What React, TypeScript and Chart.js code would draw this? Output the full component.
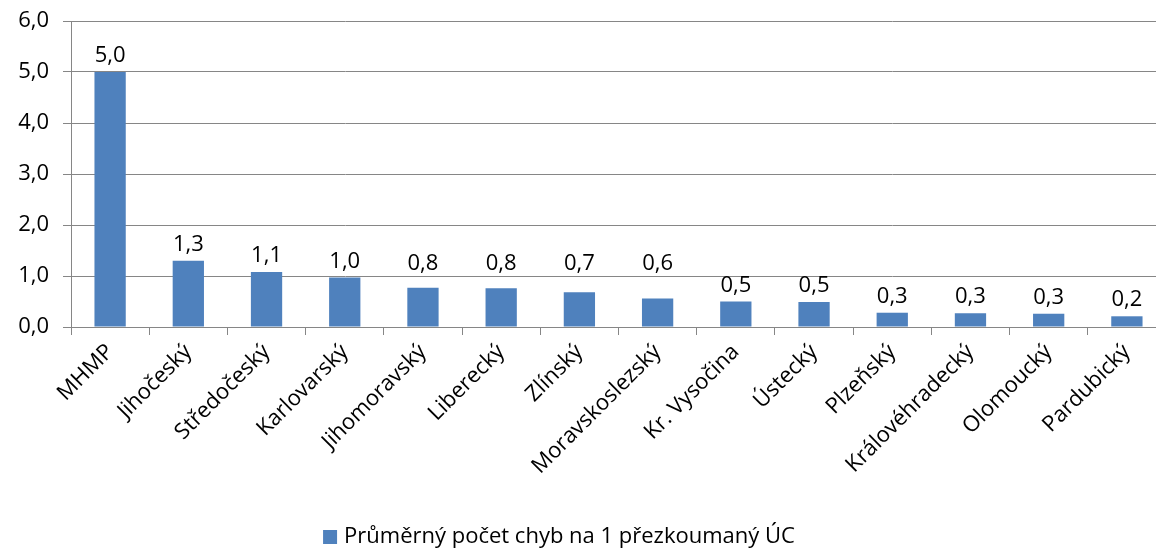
import React, { useEffect, useRef } from "react";
import { Chart, registerables } from "chart.js";

Chart.register(...registerables);

const categories = [
  "MHMP",
  "Jihočeský",
  "Středočeský",
  "Karlovarský",
  "Jihomoravský",
  "Liberecký",
  "Zlínský",
  "Moravskoslezský",
  "Kr. Vysočina",
  "Ústecký",
  "Plzeňský",
  "Královéhradecký",
  "Olomoucký",
  "Pardubický",
];
const values = [5.0, 1.3, 1.08, 0.97, 0.77, 0.76, 0.68, 0.56, 0.5, 0.49, 0.28, 0.27, 0.26, 0.21];
const seriesLabel = "Průměrný počet chyb na 1 přezkoumaný ÚC";
const yMin = 0;
const yMax = 6;
const yStep = 1;

const FONT = "'Open Sans', Lato, sans-serif";
const FONT_SIZE = 22;
const BAR_COLOR = "#4F81BD";
const GRID_COLOR = "#868686";

const fmt = (v: number) => v.toFixed(1).replace(".", ",");

const valueLabels = {
  id: "valueLabels",
  afterDatasetsDraw(chart: any) {
    const ctx = chart.ctx;
    const yScale = chart.scales.y;
    const grids: number[] = [];
    for (let v = yMin; v <= yMax; v += yStep) grids.push(yScale.getPixelForValue(v));
    const meta = chart.getDatasetMeta(0);
    ctx.save();
    ctx.font = `${FONT_SIZE}px ${FONT}`;
    ctx.fillStyle = "#000";
    ctx.textAlign = "center";
    ctx.textBaseline = "alphabetic";
    const capH = 14;
    meta.data.forEach((bar: any, i: number) => {
      let base = bar.y - 10;
      const hit = grids.find((g) => g > base - capH && g < base + 1);
      if (hit !== undefined) base = hit - 6;
      ctx.fillText(fmt(values[i]), bar.x, base);
    });
    ctx.restore();
  },
};

const customLegend = {
  id: "customLegend",
  afterDraw(chart: any) {
    const ctx = chart.ctx;
    ctx.save();
    ctx.font = `${FONT_SIZE}px ${FONT}`;
    const textW = ctx.measureText(seriesLabel).width;
    const box = 14;
    const gap = 7;
    const total = box + gap + textW;
    const cx = 559;
    const x0 = cx - total / 2;
    const cy = 537;
    ctx.fillStyle = BAR_COLOR;
    ctx.fillRect(x0, cy - box / 2, box, box);
    ctx.fillStyle = "#000";
    ctx.textAlign = "left";
    ctx.textBaseline = "middle";
    ctx.fillText(seriesLabel, x0 + box + gap, cy);
    ctx.restore();
  },
};

export default function App() {
  const ref = useRef<HTMLCanvasElement>(null);
  useEffect(() => {
    if (!ref.current) return;
    const chart = new Chart(ref.current, {
      type: "bar",
      data: {
        labels: categories,
        datasets: [
          {
            label: seriesLabel,
            data: values,
            backgroundColor: BAR_COLOR,
            borderWidth: 0,
            barPercentage: 0.4,
            categoryPercentage: 1.0,
          },
        ],
      },
      options: {
        responsive: false,
        animation: false,
        events: [],
        layout: { padding: { top: 21, left: 0, right: 0, bottom: 0 } },
        plugins: {
          legend: { display: false },
          tooltip: { enabled: false },
          title: { display: false },
        },
        scales: {
          x: {
            offset: true,
            grid: {
              offset: true,
              drawOnChartArea: false,
              drawTicks: true,
              tickLength: 8,
              color: GRID_COLOR,
            },
            border: { color: GRID_COLOR, width: 1 },
            ticks: {
              autoSkip: false,
              minRotation: 45,
              maxRotation: 45,
              padding: 4,
              color: "#000",
              font: { family: FONT, size: FONT_SIZE },
            },
            afterFit: (scale: any) => {
              scale.height = 551 - 327;
              scale.paddingLeft = 0;
              scale.paddingRight = 0;
            },
          },
          y: {
            min: yMin,
            max: yMax,
            ticks: {
              stepSize: yStep,
              padding: 14,
              color: "#000",
              font: { family: FONT, size: FONT_SIZE },
              callback: (v: any) => fmt(Number(v)),
            },
            grid: {
              color: GRID_COLOR,
              tickLength: 8,
              drawTicks: true,
            },
            border: { color: GRID_COLOR, width: 1 },
            afterFit: (scale: any) => {
              scale.width = 71;
              scale.paddingTop = 0;
              scale.paddingBottom = 0;
            },
          },
        },
      },
      plugins: [valueLabels, customLegend],
    });
    return () => chart.destroy();
  }, []);

  return (
    <div
      style={{
        position: "fixed",
        left: 0,
        top: 0,
        width: 1156,
        height: 551,
        overflow: "hidden",
        background: "#fff",
      }}
    >
      <canvas ref={ref} width={1166} height={551} style={{ display: "block" }} />
    </div>
  );
}
